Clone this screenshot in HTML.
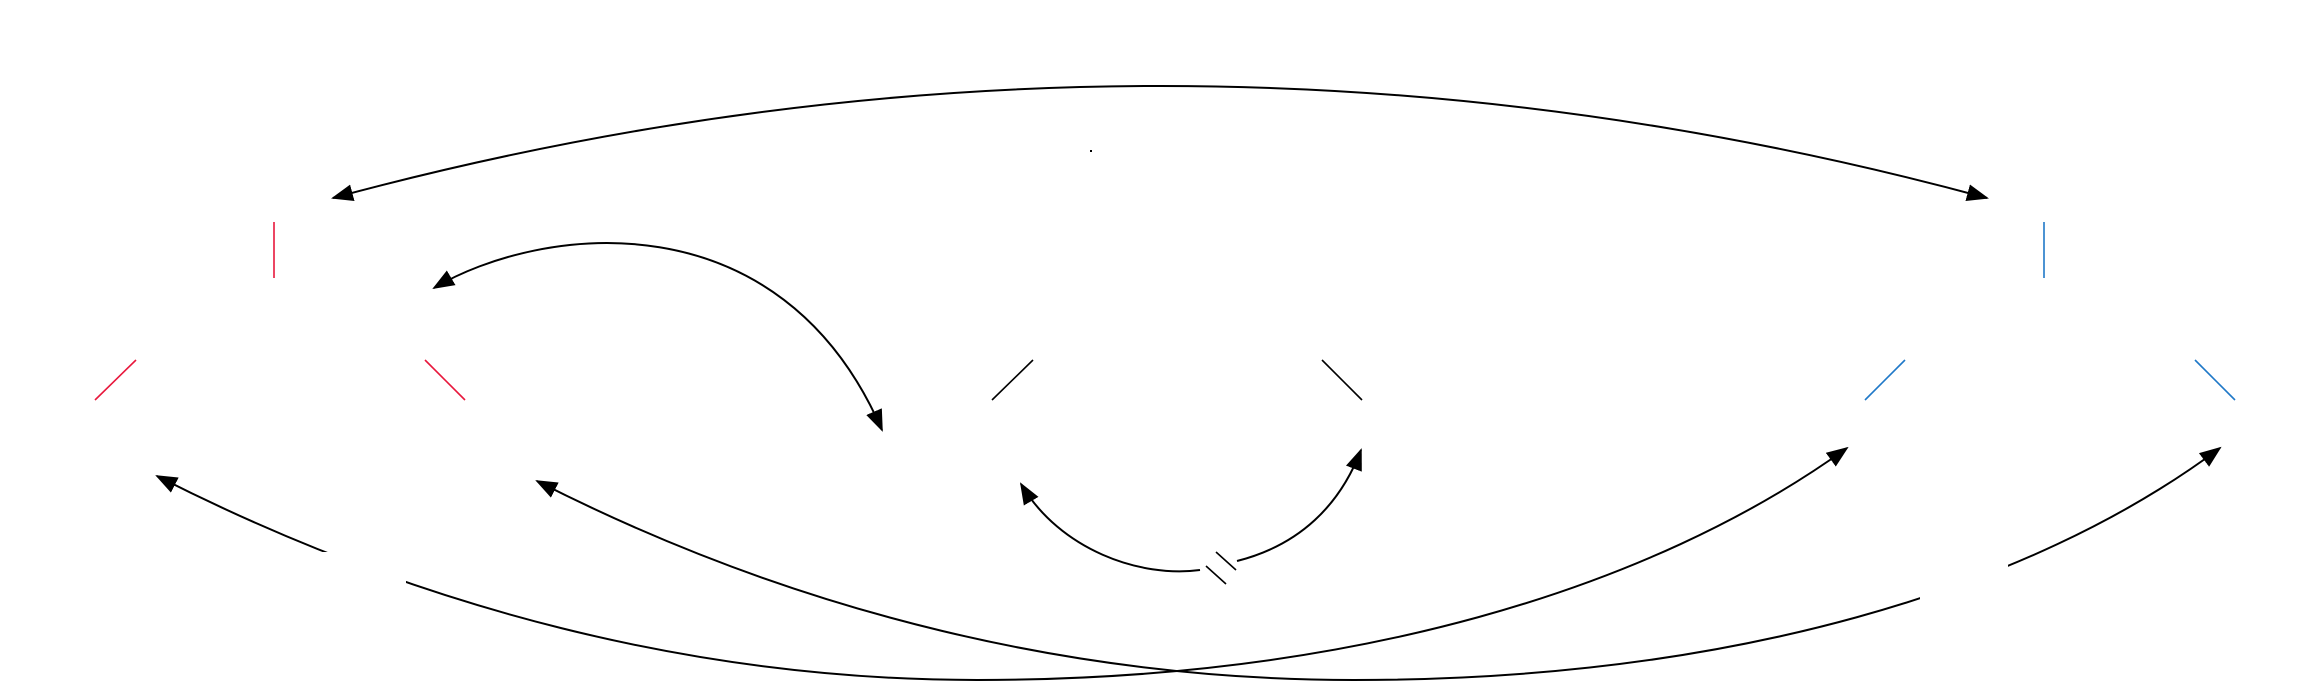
<!DOCTYPE html>
<html><head><meta charset="utf-8"><style>html,body{margin:0;padding:0;background:#fff;}svg{display:block}</style></head>
<body>
<svg width="2320" height="700" viewBox="0 0 2320 700" xmlns="http://www.w3.org/2000/svg">
<defs>
<marker id="a" markerWidth="22" markerHeight="17" refX="20" refY="8.5" orient="auto-start-reverse" markerUnits="userSpaceOnUse" viewBox="0 0 22 17">
<path d="M0,0 L22,8.5 L0,17 Z" fill="#000"/>
</marker>
</defs>
<g fill="none" stroke="#000" stroke-width="2">
<path d="M333,198 Q1161,-26 1987,198" marker-start="url(#a)" marker-end="url(#a)"/>
<path d="M434,288 C540,225 780,195 882,430" marker-start="url(#a)" marker-end="url(#a)"/>
<path d="M1021,484 C1060,550 1140,578 1200,570" marker-start="url(#a)"/>
<path d="M1237,561 C1300,545 1340,505 1361,450" marker-end="url(#a)"/>
<path d="M1206,566 L1226,584 M1216,552 L1236,570" stroke-width="1.6"/>
<path d="M157,476 C420,610 700,680 977,680 C1350,680 1650,590 1847,448" marker-start="url(#a)" marker-end="url(#a)"/>
<path d="M537,481 C800,615 1080,680 1354,680 C1730,680 2030,590 2220,448" marker-start="url(#a)" marker-end="url(#a)"/>
</g>
<rect x="318" y="552" width="88" height="32" fill="#fff"/>
<rect x="1920" y="548" width="88" height="52" fill="#fff"/>
<rect x="1090" y="150" width="2" height="2" fill="#000"/>
<g stroke="#e8173c" stroke-width="1.6">
<line x1="274" y1="222" x2="274" y2="278"/>
<line x1="95" y1="400" x2="136" y2="360"/>
<line x1="425" y1="360" x2="465" y2="400"/>
</g>
<g stroke="#000" stroke-width="1.6">
<line x1="992" y1="400" x2="1033" y2="360"/>
<line x1="1322" y1="360" x2="1362" y2="400"/>
</g>
<g stroke="#1f78c8" stroke-width="1.6">
<line x1="2044" y1="222" x2="2044" y2="278"/>
<line x1="1865" y1="400" x2="1905" y2="360"/>
<line x1="2195" y1="360" x2="2235" y2="400"/>
</g>
</svg>
</body></html>
